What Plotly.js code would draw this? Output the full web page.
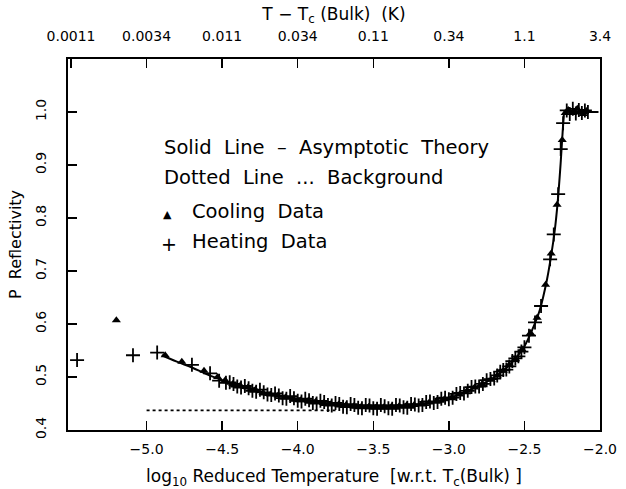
<!DOCTYPE html>
<html>
<head>
<meta charset="utf-8">
<script src="https://cdn.plot.ly/plotly-3.0.1.min.js"></script>
<style>html,body{margin:0;padding:0;background:#fff}#chart{width:626px;height:489px}</style>
</head>
<body>
<div id="chart"></div>
<script>
// Asymptotic theory (solid line)
const theoryX = [-4.9,-4.8,-4.7,-4.6,-4.5,-4.4,-4.3,-4.2,-4.1,-4.0,-3.9,-3.8,-3.7,-3.6,-3.5,-3.4,-3.3,-3.2,-3.1,-3.0,-2.9,-2.8,-2.7,-2.6,-2.55,-2.5,-2.45,-2.4,-2.35,-2.32,-2.3,-2.28,-2.26,-2.25,-2.24,-2.235,-2.2,-2.1,-2.01];
const theoryY = [0.541,0.529,0.518,0.505,0.494,0.484,0.476,0.469,0.463,0.458,0.454,0.450,0.447,0.445,0.444,0.444,0.445,0.448,0.453,0.460,0.471,0.484,0.499,0.522,0.538,0.558,0.588,0.625,0.685,0.735,0.775,0.830,0.905,0.950,0.990,1.000,1.000,1.000,1.000];
// Background (dotted line)
const bgX = [-5.0,-3.75];
const bgY = [0.437,0.437];
// Heating data (+)
const heatX = [-5.46,-5.09,-4.93,-4.70,-4.58,-4.52,-4.475,-4.45,-4.425,-4.40,-4.375,-4.35,-4.325,-4.30,-4.275,-4.25,-4.225,-4.20,-4.175,-4.15,-4.125,-4.10,-4.075,-4.05,-4.025,-4.00,-3.975,-3.95,-3.925,-3.90,-3.875,-3.85,-3.825,-3.80,-3.775,-3.75,-3.725,-3.70,-3.675,-3.65,-3.625,-3.60,-3.575,-3.55,-3.525,-3.50,-3.475,-3.45,-3.425,-3.40,-3.375,-3.35,-3.325,-3.30,-3.275,-3.25,-3.225,-3.20,-3.175,-3.15,-3.125,-3.10,-3.075,-3.05,-3.025,-3.00,-2.975,-2.95,-2.925,-2.90,-2.875,-2.85,-2.825,-2.80,-2.775,-2.75,-2.725,-2.70,-2.68,-2.66,-2.64,-2.62,-2.60,-2.58,-2.56,-2.54,-2.52,-2.50,-2.47,-2.43,-2.39,-2.33,-2.306,-2.277,-2.26,-2.244,-2.22,-2.20,-2.18,-2.16,-2.14,-2.12,-2.10,-2.08];
const heatY = [0.532,0.541,0.546,0.523,0.507,0.493,0.489,0.490,0.487,0.482,0.480,0.483,0.479,0.474,0.472,0.476,0.471,0.467,0.466,0.469,0.465,0.460,0.459,0.464,0.460,0.455,0.454,0.459,0.456,0.451,0.450,0.455,0.453,0.447,0.446,0.451,0.449,0.444,0.443,0.449,0.447,0.442,0.441,0.447,0.446,0.441,0.440,0.447,0.445,0.441,0.440,0.447,0.446,0.443,0.442,0.449,0.448,0.446,0.447,0.453,0.454,0.451,0.453,0.459,0.461,0.458,0.461,0.468,0.470,0.469,0.474,0.481,0.482,0.482,0.487,0.494,0.496,0.497,0.503,0.510,0.513,0.514,0.520,0.530,0.535,0.539,0.548,0.556,0.578,0.603,0.634,0.722,0.769,0.845,0.930,0.979,1.003,0.996,1.006,0.997,1.004,0.998,1.003,1.000];
// Cooling data (triangles)
const coolX = [-5.20,-4.877,-4.767,-4.62,-4.53,-4.48,-4.43,-4.38,-4.33,-4.28,-4.23,-4.18,-4.13,-4.08,-4.03,-3.98,-3.93,-3.88,-3.83,-3.78,-3.73,-3.68,-3.63,-3.58,-3.53,-3.48,-3.43,-3.38,-3.33,-3.28,-3.23,-3.18,-3.13,-3.08,-3.03,-2.98,-2.93,-2.88,-2.83,-2.78,-2.72,-2.68,-2.64,-2.60,-2.56,-2.515,-2.46,-2.416,-2.36,-2.323,-2.284,-2.25,-2.23,-2.21,-2.17,-2.15,-2.11,-2.09];
const coolY = [0.607,0.541,0.529,0.512,0.500,0.494,0.487,0.484,0.480,0.476,0.470,0.467,0.465,0.462,0.458,0.456,0.455,0.454,0.451,0.449,0.448,0.447,0.445,0.444,0.444,0.443,0.443,0.444,0.445,0.446,0.447,0.449,0.452,0.455,0.458,0.462,0.467,0.474,0.480,0.487,0.495,0.503,0.512,0.523,0.534,0.552,0.583,0.612,0.674,0.733,0.825,0.947,0.998,1.004,1.000,1.006,0.996,1.002];
// Axis ticks
const bottomTicks = [-5.0,-4.5,-4.0,-3.5,-3.0,-2.5,-2.0];
const bottomLabels = ["\u22125.0","\u22124.5","\u22124.0","\u22123.5","\u22123.0","\u22122.5","\u22122.0"];
const topTicks = [-5.5,-5.0,-4.5,-4.0,-3.5,-3.0,-2.5,-2.0];
const topLabels = ["0.0011","0.0034","0.011","0.034","0.11","0.34","1.1","3.4"];
const yTicks = [0.4,0.5,0.6,0.7,0.8,0.9,1.0];
const yLabels = ["0.4","0.5","0.6","0.7","0.8","0.9","1.0"];

const FONT = "DejaVu Sans, Verdana, sans-serif";
const traces = [
  {x: bgX, y: bgY, mode: 'lines', line: {color: '#000', width: 1.6, dash: 'dot'}, hoverinfo: 'skip'},
  {x: theoryX, y: theoryY, mode: 'lines', line: {color: '#000', width: 2, shape: 'spline'}, hoverinfo: 'skip'},
  {x: heatX, y: heatY, mode: 'markers', marker: {symbol: 'cross-thin-open', size: 10, color: '#000', line: {color: '#000', width: 1.8}}},
  {x: coolX, y: coolY, mode: 'markers', marker: {symbol: 'triangle-up', size: 8, color: '#000'}},
  {x: [], y: [], xaxis: 'x2', yaxis: 'y', mode: 'markers', hoverinfo: 'skip'}
];
const ann = (x, y, t, sz) => ({xref: 'paper', yref: 'paper', x: x, y: y, text: t, showarrow: false, xanchor: 'left', yanchor: 'middle', font: {family: FONT, size: sz || 19.5, color: '#000'}});
const W = 532, H = 371, L = 68, T = 59;
const px = v => (v - L) / W;
const py = v => 1 - (v - T) / H;
const layout = {
  width: 626, height: 489,
  margin: {l: 68, r: 26, t: 59, b: 59},
  paper_bgcolor: '#fff', plot_bgcolor: '#fff',
  showlegend: false,
  font: {family: FONT, color: '#000', size: 14},
  xaxis: {range: [-5.52, -2.0], tickvals: bottomTicks, ticktext: bottomLabels, ticks: 'inside', ticklen: 9, tickwidth: 1.5, tickcolor: '#000',
          showline: true, linewidth: 2, linecolor: '#000', mirror: true, showgrid: false, zeroline: false,
          tickfont: {size: 14}, ticklabelstandoff: 5,
          title: {text: 'log<sub>10</sub> Reduced Temperature  [w.r.t. T<sub>c</sub>(Bulk) ]', font: {size: 17}, standoff: 19}},
  xaxis2: {overlaying: 'x', side: 'top', matches: 'x', range: [-5.52, -2.0], tickvals: topTicks, ticktext: topLabels, ticks: 'inside', ticklen: 9, tickwidth: 1.5, tickcolor: '#000',
           showline: false, showgrid: false, zeroline: false, tickfont: {size: 14}, ticklabelstandoff: 14,
           title: {text: 'T \u2212 T<sub>c</sub> (Bulk)  (K)', font: {size: 17}, standoff: 3}},
  yaxis: {range: [0.4, 1.1], tickvals: yTicks, ticktext: yLabels, ticks: 'inside', ticklen: 9, tickwidth: 1.5, tickcolor: '#000', tickangle: -90,
          showline: true, linewidth: 2, linecolor: '#000', mirror: true, showgrid: false, zeroline: false, tickfont: {size: 14}, ticklabelstandoff: 14,
          title: {text: 'P  Reflectivity', font: {size: 16}, standoff: 8}},
  annotations: [
    ann(px(162), py(147), 'Solid  Line  \u2013  Asymptotic  Theory'),
    ann(px(162), py(178), 'Dotted  Line  ...  Background'),
    ann(px(161), py(214), '\u25B2', 11),
    ann(px(190), py(211), 'Cooling  Data'),
    ann(px(159), py(244), '+', 19),
    ann(px(190), py(241), 'Heating  Data')
  ]
};
Plotly.newPlot('chart', traces, layout, {displayModeBar: false, staticPlot: true});
</script>
</body>
</html>
